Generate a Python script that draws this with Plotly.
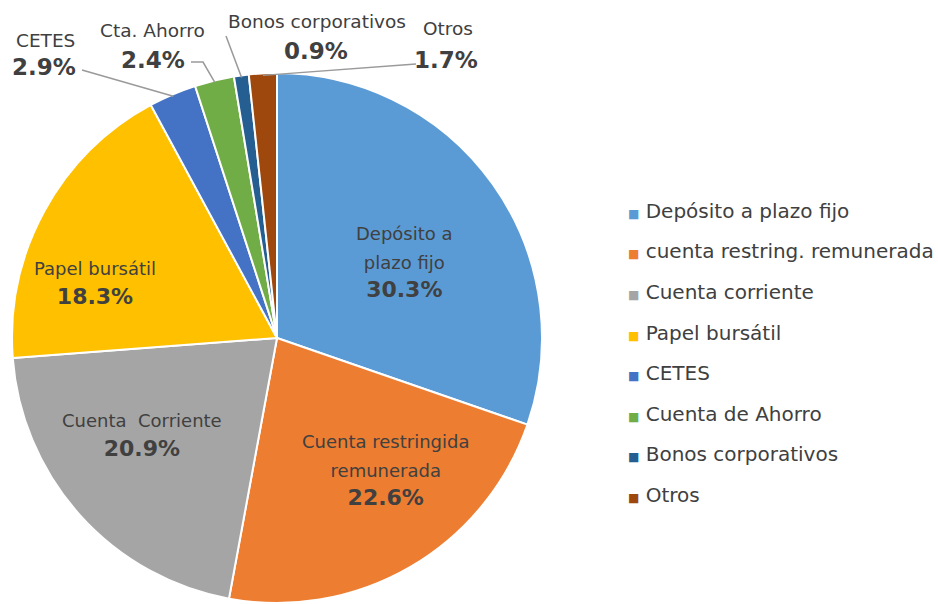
import math
import plotly.graph_objects as go

# ---- data ----
labels = ["Depósito a plazo fijo", "cuenta restring. remunerada", "Cuenta corriente",
          "Papel bursátil", "CETES", "Cuenta de Ahorro", "Bonos corporativos", "Otros"]
values = [30.3, 22.6, 20.9, 18.3, 2.9, 2.4, 0.9, 1.7]
colors = ["#5B9BD5", "#ED7D31", "#A5A5A5", "#FFC000", "#4472C4", "#70AD47", "#255E91", "#9E480E"]
slice_names = ["Depósito a<br>plazo fijo", "Cuenta restringida<br>remunerada", "Cuenta  Corriente",
               "Papel bursátil", "CETES", "Cta. Ahorro", "Bonos corporativos", "Otros"]

W, H = 938, 604
CX, CY, R = 277, 338, 265
TXT = "#404040"
FONT = "DejaVu Sans"


def px(x):
    return x / W


def py(y):
    return 1 - y / H


fig = go.Figure(go.Pie(
    labels=labels, values=values, sort=False, direction="clockwise", rotation=0,
    marker=dict(colors=colors, line=dict(color="white", width=2)),
    textinfo="none", hoverinfo="label+percent", showlegend=False,
    domain=dict(x=[px(CX - R), px(CX + R)], y=[py(CY + R), py(CY - R)]),
))

annotations = []
shapes = []

# inside labels (pixel anchor of label block centre)
inside_pos = {0: (404, 262), 1: (385, 470), 2: (142, 435), 3: (95, 283)}
for i, (x, y) in inside_pos.items():
    annotations.append(dict(
        x=px(x), y=py(y), xref="paper", yref="paper", showarrow=False,
        xanchor="center", yanchor="middle", align="center",
        text=f"<span style='font-size:18px'>{slice_names[i]}</span><br><b>{values[i]:.1f}%</b>",
        font=dict(family=FONT, size=22, color=TXT),
    ))

# outside labels: name position, value position, leader path end points
outside = {
    4: dict(name=(45, 40), val=(44, 67), path=[(82, 70)]),
    5: dict(name=(152, 30), val=(153, 60), path=[(191, 62), (203, 62)]),
    6: dict(name=(317, 22), val=(316, 51), path=[(226, 36)]),
    7: dict(name=(448, 29), val=(446, 60), path=[(416, 64)]),
}
total = sum(values)
cum = 0
mids = []
for v in values:
    mids.append((cum + v / 2) / total)
    cum += v

for i, o in outside.items():
    annotations.append(dict(
        x=px(o["name"][0]), y=py(o["name"][1]), xref="paper", yref="paper", showarrow=False,
        xanchor="center", yanchor="middle", text=slice_names[i],
        font=dict(family=FONT, size=18.5, color=TXT),
    ))
    annotations.append(dict(
        x=px(o["val"][0]), y=py(o["val"][1]), xref="paper", yref="paper", showarrow=False,
        xanchor="center", yanchor="middle", text=f"<b>{values[i]:.1f}%</b>",
        font=dict(family=FONT, size=23, color=TXT),
    ))
    ang = 2 * math.pi * mids[i]
    ex = CX + (R - 2) * math.sin(ang)
    ey = CY - (R - 2) * math.cos(ang)
    pts = o["path"] + [(ex, ey)]
    d = "M " + " L ".join(f"{px(a):.5f},{py(b):.5f}" for a, b in pts)
    shapes.append(dict(type="path", path=d, xref="paper", yref="paper",
                       line=dict(color="#9a9a9a", width=1.5)))

# legend drawn as text rows
for i, (lab, col) in enumerate(zip(labels, colors)):
    annotations.append(dict(
        x=px(626), y=py(211 + i * 40.5), xref="paper", yref="paper", showarrow=False,
        xanchor="left", yanchor="middle",
        text=f"<span style='color:{col};font-size:12px'>■</span> {lab}",
        font=dict(family=FONT, size=20, color=TXT),
    ))

fig.update_layout(
    width=W, height=H, margin=dict(l=0, r=0, t=0, b=0),
    paper_bgcolor="white", plot_bgcolor="white",
    annotations=annotations, shapes=shapes,
)

fig.write_html("out.html", config={"displayModeBar": False},
               post_script="document.body.style.margin='0';")
